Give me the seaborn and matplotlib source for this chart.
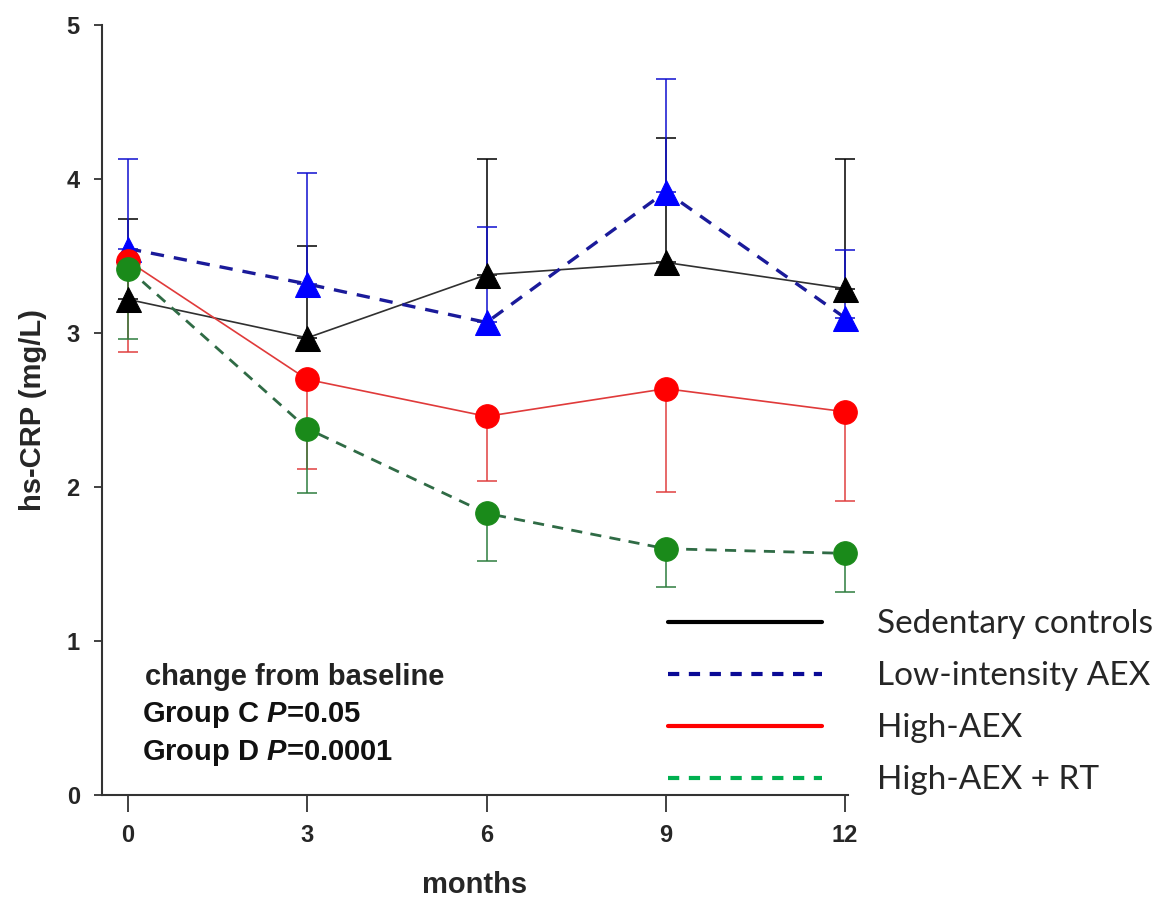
import numpy as np
import pandas as pd
import matplotlib
matplotlib.use("Agg")
import matplotlib.pyplot as plt
from matplotlib.lines import Line2D
import seaborn as sns

months = [0, 3, 6, 9, 12]
groups = ["Sedentary controls", "Low-intensity AEX", "High-AEX", "High-AEX + RT"]

sedentary = [3.22, 2.97, 3.38, 3.46, 3.29]
low_aex = [3.55, 3.32, 3.07, 3.92, 3.10]
high_aex = [3.47, 2.70, 2.46, 2.64, 2.49]
high_aex_rt = [3.42, 2.38, 1.83, 1.60, 1.57]

# error bar ends (one-sided, as in the figure)
sedentary_upper = [3.74, 3.57, 4.13, 4.27, 4.13]
low_aex_upper = [4.13, 4.04, 3.69, 4.65, 3.54]
high_aex_lower = [2.88, 2.12, 2.04, 1.97, 1.91]
high_aex_rt_lower = [2.96, 1.96, 1.52, 1.35, 1.32]

df = pd.DataFrame({
    "months": months * 4,
    "crp": sedentary + low_aex + high_aex + high_aex_rt,
    "group": [g for g in groups for _ in months],
})

sns.set_style("ticks")
plt.rcParams["font.family"] = ["Liberation Sans", "DejaVu Sans"]
plt.rcParams["mathtext.fontset"] = "custom"
plt.rcParams["mathtext.it"] = "Liberation Sans:italic:bold"

fig = plt.figure(figsize=(11.63, 8.98), dpi=100)
ax = fig.add_axes([0.0877, 0.1147, 0.6415, 0.857])

# error bars first so markers sit on top
eb = dict(fmt="none", elinewidth=1.1, capsize=7, capthick=1.1, zorder=2)
ax.errorbar(months, sedentary, yerr=[np.zeros(5), np.array(sedentary_upper) - sedentary],
            ecolor="black", **eb)
ax.errorbar(months, low_aex, yerr=[np.zeros(5), np.array(low_aex_upper) - low_aex],
            ecolor="#1010d0", **eb)
ax.errorbar(months, high_aex, yerr=[np.array(high_aex) - high_aex_lower, np.zeros(5)],
            ecolor="#e04040", **eb)
ax.errorbar(months, high_aex_rt, yerr=[np.array(high_aex_rt) - high_aex_rt_lower, np.zeros(5)],
            ecolor="#2e7d3e", **eb)

styles = {
    "Sedentary controls": dict(color="#303030", lw=1.2, ls="-", marker="^", mfc="black", ms=18),
    "Low-intensity AEX": dict(color="#1a1a9a", lw=2.4, ls=(0, (4, 3)), marker="^", mfc="#0000ff", ms=18),
    "High-AEX": dict(color="#e03a3a", lw=1.2, ls="-", marker="o", mfc="#ff0000", ms=17),
    "High-AEX + RT": dict(color="#2f6b45", lw=2.0, ls=(0, (4, 3)), marker="o", mfc="#1a8a1a", ms=17),
}
for g in groups:
    s = styles[g]
    sns.lineplot(data=df[df.group == g], x="months", y="crp", ax=ax, color=s["color"],
                 linewidth=s["lw"], linestyle=s["ls"], marker=s["marker"], markersize=s["ms"],
                 markerfacecolor=s["mfc"], markeredgecolor=s["mfc"], legend=False, zorder=3)
for ln in ax.lines:
    ln.set_clip_on(False)

ax.set_xlim(-0.435, 12.05)
ax.set_ylim(0, 5)
ax.set_xticks(months)
ax.set_yticks([0, 1, 2, 3, 4, 5])
ax.tick_params(axis="both", labelsize=17, width=1.3, color="#333333")
ax.tick_params(axis="x", length=12, pad=9)
ax.tick_params(axis="y", length=6, pad=10)
for lab in ax.get_xticklabels() + ax.get_yticklabels():
    lab.set_fontweight("bold")
for sp in ["left", "bottom"]:
    ax.spines[sp].set_linewidth(1.5)
    ax.spines[sp].set_color("#333333")
sns.despine(ax=ax)

ax.set_xlabel("months", fontsize=21, fontweight="bold", labelpad=17)
ax.set_ylabel("hs-CRP (mg/L)", fontsize=21, fontweight="bold", labelpad=14)

fig.text(0.125, 1 - 677 / 898, "change from baseline", fontsize=21, fontweight="bold",
         va="center", color="#222222")
fig.text(0.122, 1 - 715 / 898, "Group C $P$=0.05", fontsize=21,
         fontweight="bold", va="center", color="#111111")
fig.text(0.122, 1 - 753 / 898, "Group D $P$=0.0001", fontsize=21,
         fontweight="bold", va="center", color="#111111")

handles = [
    Line2D([], [], color="black", lw=3),
    Line2D([], [], color="#0a0a96", lw=3, ls=(0, (2.7, 2.3))),
    Line2D([], [], color="#ff0000", lw=3),
    Line2D([], [], color="#00b050", lw=3, ls=(0, (2.7, 2.3))),
]
fig.legend(handles, groups, loc="upper left", bbox_to_anchor=(0.549, 0.355),
           frameon=False, handlelength=4.6, handletextpad=1.65, labelspacing=0.66,
           prop={"family": "Lato", "size": 24})

fig.savefig("out.png", dpi=100)
